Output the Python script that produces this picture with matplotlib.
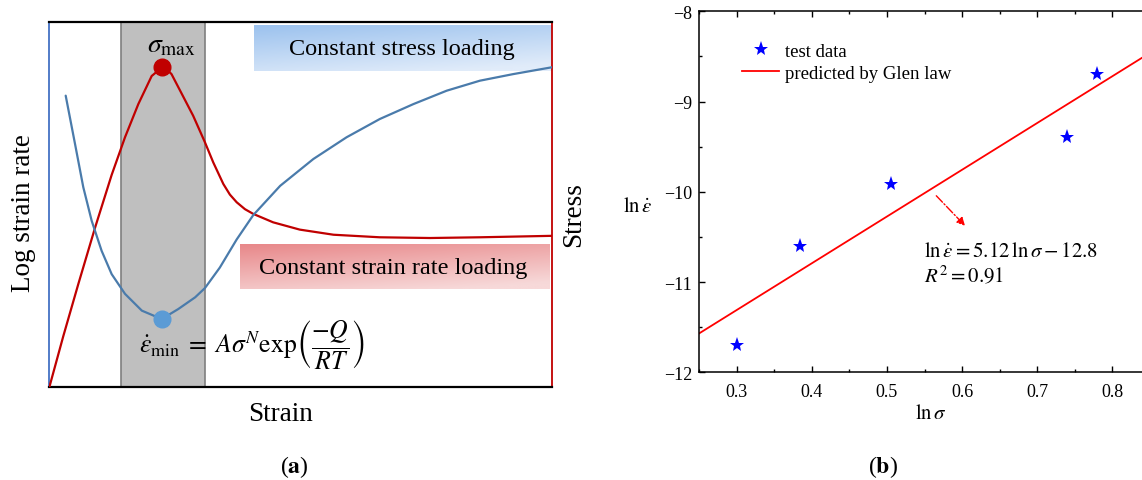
import numpy as np
import matplotlib
matplotlib.use('Agg')
import matplotlib.pyplot as plt
from matplotlib.ticker import MultipleLocator

# panel (a): schematic curves on a 0-1 strain / 0-1 value scale
stress_strain = [0.0, 0.0278, 0.0577, 0.0909, 0.124, 0.1505, 0.177, 0.2036, 0.2247,
                 0.233, 0.243, 0.260, 0.286, 0.3095, 0.326, 0.346, 0.359, 0.3725,
                 0.389, 0.4056, 0.445, 0.498, 0.565, 0.657, 0.757, 0.856, 1.0]
stress_val = [0.0, 0.140, 0.283, 0.437, 0.582, 0.685, 0.776, 0.853, 0.877,
              0.872, 0.858, 0.813, 0.744, 0.671, 0.616, 0.557, 0.528, 0.507,
              0.488, 0.475, 0.452, 0.432, 0.418, 0.411, 0.409, 0.411, 0.415]
rate_strain = [0.0326, 0.0511, 0.0676, 0.0843, 0.104, 0.124, 0.1505, 0.184, 0.2235,
               0.2565, 0.290, 0.3095, 0.339, 0.3725, 0.4056, 0.459, 0.525, 0.591,
               0.657, 0.724, 0.790, 0.856, 0.922, 1.0]
rate_val = [0.799, 0.667, 0.548, 0.456, 0.374, 0.310, 0.256, 0.210, 0.187,
            0.2145, 0.2466, 0.272, 0.328, 0.405, 0.472, 0.552, 0.6255, 0.685,
            0.735, 0.776, 0.8126, 0.840, 0.858, 0.877]
peak_point = (0.2247, 0.877)
min_point = (0.2235, 0.187)
band = (0.1427, 0.3095)

# panel (b): test data and Glen law fit
ln_sigma = [0.300, 0.384, 0.506, 0.739, 0.780]
ln_rate = [-11.70, -10.60, -9.91, -9.39, -8.70]
fit_x = [0.25, 0.85]
fit_y = [-11.57, -8.46]
xticks_b = [0.3, 0.4, 0.5, 0.6, 0.7, 0.8]
yticks_b = [-12, -11, -10, -9, -8]

plt.rcParams['font.family'] = ['Liberation Serif', 'DejaVu Serif']
plt.rcParams['mathtext.fontset'] = 'stix'

W, H = 1142, 481
fig = plt.figure(figsize=(W / 100, H / 100), dpi=100)


def gradient_box(ax, x0, x1, y0, y1, c_dark, c_light):
    u = np.linspace(0, 1, 80)[None, :]
    v = np.linspace(0, 1, 30)[:, None]
    t = np.clip(0.75 * v + 0.35 * u, 0, 1)[..., None]
    a = np.array(matplotlib.colors.to_rgb(c_dark))
    b = np.array(matplotlib.colors.to_rgb(c_light))
    img = a * (1 - t) + b * t
    ax.imshow(img, extent=[x0, x1, y1, y0], origin='upper', aspect='auto',
              zorder=1, interpolation='bilinear')


# ---------------- panel (a) ----------------
axa = fig.add_axes([49.3 / W, 1 - 388.3 / H, 503 / W, 365 / H])
axa.axvspan(band[0], band[1], facecolor='#bfbfbf', edgecolor='#7f7f7f', lw=1.2, zorder=0)
gradient_box(axa, 0.407, 0.999, 0.991, 0.867, '#9cc2ee', '#e1ecfa')
gradient_box(axa, 0.379, 0.994, 0.3926, 0.2695, '#e8888a', '#f7d9d9')
axa.plot(stress_strain, stress_val, color='#c00000', lw=1.6, zorder=3,
         solid_joinstyle='round', solid_capstyle='round')
axa.plot(rate_strain, rate_val, color='#4a7bab', lw=1.6, zorder=3,
         solid_joinstyle='round', solid_capstyle='round')
axa.plot(*peak_point, 'o', color='#c00000', ms=12, zorder=4)
axa.plot(*min_point, 'o', color='#5b9bd5', ms=12, zorder=4)
axa.text(0.7006, 0.927, 'Constant stress loading', ha='center', va='center', fontsize=17.5, zorder=5)
axa.text(0.684, 0.329, 'Constant strain rate loading', ha='center', va='center', fontsize=17.5, zorder=5)
axa.text(0.242, 0.937, r'$\sigma_{\max}$', ha='center', va='center', fontsize=20, zorder=5)
axa.text(0.178, 0.118,
         r'$\dot{\varepsilon}_{\min}\;=\;A\sigma^{N}\mathrm{exp}\left(\dfrac{-Q}{RT}\right)$',
         ha='left', va='center', fontsize=18.5, zorder=5)
axa.set_xlim(0, 1)
axa.set_ylim(0, 1)
axa.set_xticks([])
axa.set_yticks([])
axa.spines['left'].set_color('#4472c4')
axa.spines['right'].set_color('#c00000')
axa.spines['left'].set_linewidth(1.3)
axa.spines['right'].set_linewidth(1.3)
axa.spines['top'].set_linewidth(1.6)
axa.spines['bottom'].set_linewidth(1.6)

fig.text(24 / W, 1 - 213 / H, 'Log strain rate', rotation=90, ha='center', va='center', fontsize=19.5)
fig.text(574 / W, 1 - 215 / H, 'Stress', rotation=90, ha='center', va='center', fontsize=19.5)
fig.text(281 / W, 1 - 415 / H, 'Strain', ha='center', va='center', fontsize=19.5)
fig.text(294 / W, 1 - 467 / H, r'($\mathbf{a}$)', ha='center', va='center', fontsize=17)

# ---------------- panel (b) ----------------
axb = fig.add_axes([699 / W, 1 - 373.3 / H, 451 / W, 361 / H])
axb.plot(ln_sigma, ln_rate, '*', color='#0000ff', ms=11, mew=0, label='test data', zorder=3)
axb.plot(fit_x, fit_y, color='#ff0000', lw=1.3, label='predicted by Glen law', zorder=2)
axb.annotate('', xy=(0.604, -10.377), xytext=(0.5657, -10.044),
             arrowprops=dict(arrowstyle='-|>', color='#ff0000', lw=1.0, ls='-.',
                             mutation_scale=12, shrinkA=0, shrinkB=0))
axb.text(0.550, -10.66, r'$\ln\dot{\varepsilon} = 5.12\,\ln\sigma - 12.8$',
         ha='left', va='center', fontsize=15)
axb.text(0.550, -10.92, r'$R^2 = 0.91$', ha='left', va='center', fontsize=15)

axb.set_xlim(0.25, 0.85)
axb.set_ylim(-12, -8)
axb.set_xticks(xticks_b)
axb.set_yticks(yticks_b)
axb.set_xticklabels(['%.1f' % v for v in xticks_b])
axb.set_yticklabels(['\u2212%d' % abs(v) for v in yticks_b])
axb.xaxis.set_minor_locator(MultipleLocator(0.05))
axb.yaxis.set_minor_locator(MultipleLocator(0.5))
axb.tick_params(which='both', direction='in', top=True, right=True, width=1.0, labelsize=13)
axb.tick_params(which='major', length=4.5)
axb.tick_params(which='minor', length=2.5)
axb.tick_params(axis='x', pad=8)
axb.tick_params(axis='y', pad=5)
for s in axb.spines.values():
    s.set_linewidth(1.1)

axb.legend(loc='upper left', bbox_to_anchor=(0.095, 0.913), frameon=False, fontsize=13.5,
           borderpad=0, borderaxespad=0, handlelength=2.0, handletextpad=0.3,
           labelspacing=0.25)

fig.text(638 / W, 1 - 207 / H, r'$\ln\dot{\varepsilon}$', ha='center', va='center', fontsize=15)
fig.text(931 / W, 1 - 415 / H, r'$\ln\sigma$', ha='center', va='center', fontsize=15)
fig.text(883 / W, 1 - 467 / H, r'($\mathbf{b}$)', ha='center', va='center', fontsize=17)

fig.savefig('out.png', dpi=100)
